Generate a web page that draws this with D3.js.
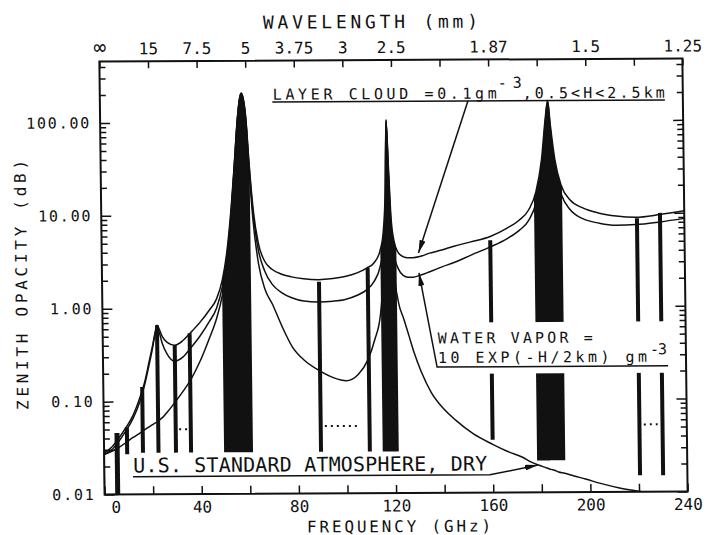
<!DOCTYPE html>
<html>
<head>
<meta charset="utf-8">
<script src="https://cdn.jsdelivr.net/npm/d3@7"></script>
<style>
  body { margin: 0; background: #fff; }
  svg text { font-family: "DejaVu Sans Mono", monospace; fill: #111; }
</style>
</head>
<body>
<svg id="chart" width="706" height="535"></svg>
<script>
// ---- data ----
const freqGHz = [0, 3, 6, 9, 12, 15, 17, 19, 20.5, 21.5,
  22.4, 23.3, 24.5, 26.5, 29.5, 33, 36, 40, 44, 47,
  49.5, 51.5, 53.5, 55, 56.5, 57.5, 58.2, 59, 60, 61,
  62.5, 64.5, 67, 70, 74, 78, 83, 89, 95, 100,
  105, 109, 112, 114.5, 116, 117, 117.7, 118.4, 119.3, 120.5,
  122, 124, 126, 128, 131, 135, 140, 145, 152, 160,
  167, 172, 176, 179, 181.5, 183.3, 184.3, 185.3, 187, 189.5,
  193, 198, 205, 212, 220, 230, 240];

// U.S. standard atmosphere, dry
const dryDb = [0.027, 0.029, 0.032, 0.036, 0.041, 0.046, 0.05, 0.054, 0.057, 0.059,
  0.061, 0.064, 0.068, 0.078, 0.098, 0.13, 0.17, 0.27, 0.48, 0.78,
  1.4, 3.0, 10, 32, 105, 175, 205, 175, 100, 33,
  8.5, 3, 1.6, 1.1, 0.62, 0.38, 0.27, 0.21, 0.175, 0.163,
  0.19, 0.27, 0.45, 0.85, 2.5, 10, 100, 25, 5, 2,
  1.1, 0.75, 0.5, 0.33, 0.2, 0.12, 0.08, 0.06, 0.043, 0.033,
  0.027, 0.024, 0.021, 0.0195, 0.0185, 0.0178, 0.0175, 0.0172, 0.0165, 0.016,
  0.015, 0.0138, 0.0122, 0.011, 0.0101, 0.0093, 0.0088];

// + water vapor
const vaporDb = [0.027, 0.03, 0.037, 0.048, 0.065, 0.1, 0.15, 0.25, 0.38, 0.52,
  0.64, 0.55, 0.42, 0.32, 0.27, 0.3, 0.37, 0.5, 0.72, 1.0,
  1.7, 3.5, 11, 34, 108, 178, 205, 178, 105, 37,
  10.5, 4.2, 2.5, 1.8, 1.45, 1.28, 1.18, 1.15, 1.17, 1.22,
  1.35, 1.55, 1.9, 2.7, 4.5, 14, 102, 30, 7, 3.5,
  2.6, 2.2, 2.1, 2.1, 2.2, 2.4, 2.7, 3.0, 3.6, 4.4,
  5.4, 6.6, 8.5, 13, 30, 100, 160, 80, 30, 16,
  11, 8.8, 7.8, 7.4, 7.5, 8.0, 8.7];

// + layer cloud
const cloudDb = [0.028, 0.032, 0.04, 0.052, 0.07, 0.11, 0.16, 0.27, 0.4, 0.54,
  0.66, 0.6, 0.5, 0.43, 0.4, 0.45, 0.54, 0.7, 0.95, 1.25,
  2.0, 4.0, 12, 35, 110, 180, 205, 180, 110, 40,
  12, 5, 3.2, 2.6, 2.3, 2.15, 2.05, 2.0, 2.05, 2.15,
  2.35, 2.65, 3.0, 4.0, 6.5, 18, 105, 35, 9, 5,
  3.9, 3.5, 3.4, 3.4, 3.5, 3.8, 4.1, 4.5, 5.0, 5.7,
  7.0, 8.5, 11, 17, 38, 110, 165, 90, 38, 20,
  14, 11.5, 10, 9.3, 9.0, 9.6, 10.5];

// absorption line markers
const lineFreq = [5.4, 9.5, 16, 22.4, 29.6, 35.8, 89.3, 109.4, 160, 220.5, 230];
const lineTop = [0.046, 0.053, 0.143, 0.66, 0.40, 0.54, 1.9, 2.65, 5.2, 8.8, 10];
const lineBottom = [0.01, 0.027, 0.028, 0.028, 0.028, 0.028, 0.028, 0.028, 0.037, 0.015, 0.015];

// filled line complexes (60, 119, 183 GHz)
const bandFrom = [49.4, 114.7, 178.2];
const bandTo = [61.3, 121.3, 189.8];
const bandBase = [0.028, 0.028, 0.022];

// dotted "more lines" marks
const dotFrom = [31, 91, 222.3];
const dotTo = [34.5, 105.4, 228];
const dotLevel = [0.05, 0.053, 0.053];

// axes
const freqTickGHz = [0, 20, 40, 60, 80, 100, 120, 140, 160, 180, 200, 220, 240];
const freqTickLabel = ["0", "", "40", "", "80", "", "120", "", "160", "", "200", "", "240"];
const waveTickLabel = ["\u221e", "15", "7.5", "5", "3.75", "3", "2.5", "", "1.87", "", "1.5", "", "1.25"];
const opacityTicks = [0.01, 0.1, 1, 10, 100];
const opacityLabels = ["0.01", "0.10", "1.00", "10.00", "100.00"];

// ---- layout ----
const plotL = 102, plotR = 685, plotT = 60, plotB = 493;
const ink = "#111";

const x = d3.scaleLinear().domain([0, 240]).range([plotL, plotR]);
const y = d3.scaleLog().domain([0.01, 458]).range([plotB, plotT]);

const svg = d3.select("#chart");
const defs = svg.append("defs");
// the scanned figure is slightly skewed
const g = svg.append("g").attr("transform", "matrix(1,-0.0053,0.0121,1,-3.35,2.09)");

defs.append("clipPath").attr("id", "plot").append("rect")
  .attr("x", plotL).attr("y", plotT).attr("width", plotR - plotL).attr("height", plotB - plotT);

defs.append("marker").attr("id", "head")
  .attr("viewBox", "0 0 13 6").attr("refX", 13).attr("refY", 3)
  .attr("markerWidth", 13).attr("markerHeight", 6)
  .attr("markerUnits", "userSpaceOnUse").attr("orient", "auto")
  .append("path").attr("d", "M0,0L13,3L0,6Z").attr("fill", ink);

// filled bands under the top curve
bandFrom.forEach((f0, k) => {
  const id = "band" + k;
  defs.append("clipPath").attr("id", id).append("rect")
    .attr("x", x(f0)).attr("y", plotT)
    .attr("width", x(bandTo[k]) - x(f0)).attr("height", plotB - plotT);
  const area = d3.area()
    .x((d, i) => x(freqGHz[i]))
    .y0(y(bandBase[k]))
    .y1(d => y(d))
    .curve(d3.curveMonotoneX);
  g.append("path").attr("clip-path", `url(#${id})`)
    .attr("d", area(cloudDb)).attr("fill", ink);
});

// the three opacity curves
const line = d3.line()
  .x((d, i) => x(freqGHz[i]))
  .y(d => y(d))
  .curve(d3.curveMonotoneX);

g.append("g").attr("clip-path", "url(#plot)")
  .selectAll("path")
  .data([dryDb, vaporDb, cloudDb])
  .join("path")
  .attr("d", d => line(d))
  .attr("fill", "none")
  .attr("stroke", ink)
  .attr("stroke-width", 1.5);

// low-frequency box
g.append("rect")
  .attr("x", x(0)).attr("y", y(0.03))
  .attr("width", x(lineFreq[0]) - x(0)).attr("height", y(0.01) - y(0.03))
  .attr("fill", "none").attr("stroke", ink).attr("stroke-width", 1.3);

// line markers
g.append("g").selectAll("line")
  .data(lineFreq)
  .join("line")
  .attr("x1", d => x(d)).attr("x2", d => x(d))
  .attr("y1", (d, i) => y(lineTop[i]))
  .attr("y2", (d, i) => y(lineBottom[i]))
  .attr("stroke", ink)
  .attr("stroke-width", (d, i) => i === 0 ? 5 : 4);

// dotted marks
g.append("g").selectAll("line")
  .data(dotFrom)
  .join("line")
  .attr("x1", d => x(d)).attr("x2", (d, i) => x(dotTo[i]))
  .attr("y1", (d, i) => y(dotLevel[i])).attr("y2", (d, i) => y(dotLevel[i]))
  .attr("stroke", ink).attr("stroke-width", 2)
  .attr("stroke-dasharray", "2,4");

// ---- axes ----
function styleAxis(sel, size) {
  sel.select(".domain").remove();
  sel.attr("font-family", null).attr("font-size", size).attr("color", ink);
  sel.selectAll("line").attr("stroke-width", 1.5);
}

g.append("g").attr("transform", `translate(0,${plotB})`)
  .call(d3.axisBottom(x).tickValues(freqTickGHz)
    .tickFormat((d, i) => freqTickLabel[i])
    .tickSizeInner(-8).tickSizeOuter(0).tickPadding(7))
  .call(s => styleAxis(s, 16))
  .call(s => s.selectAll("text").attr("dx", d => d === 0 ? 11 : 0));

g.append("g").attr("transform", `translate(0,${plotT})`)
  .call(d3.axisTop(x).tickValues(freqTickGHz)
    .tickFormat((d, i) => waveTickLabel[i])
    .tickSizeInner(-7).tickSizeOuter(0).tickPadding(7))
  .call(s => styleAxis(s, 16))
  .call(s => s.selectAll("text").filter(d => d === 0).attr("font-size", 21));

const minorTicks = y.ticks().filter(t => !opacityTicks.some(m => Math.abs(m - t) / t < 1e-6));

g.append("g").attr("transform", `translate(${plotL},0)`)
  .call(d3.axisLeft(y).tickValues(opacityTicks)
    .tickFormat((d, i) => opacityLabels[i])
    .tickSizeInner(-10).tickSizeOuter(0).tickPadding(9))
  .call(s => styleAxis(s, 15))
  .call(s => s.selectAll("text").attr("letter-spacing", 1.8));

g.append("g").attr("transform", `translate(${plotL},0)`)
  .call(d3.axisLeft(y).tickValues(minorTicks).tickFormat("")
    .tickSizeInner(-6).tickSizeOuter(0))
  .call(s => styleAxis(s, 15));

g.append("g").attr("transform", `translate(${plotR},0)`)
  .call(d3.axisRight(y).tickValues(opacityTicks).tickFormat("")
    .tickSizeInner(-10).tickSizeOuter(0))
  .call(s => styleAxis(s, 15));

g.append("g").attr("transform", `translate(${plotR},0)`)
  .call(d3.axisRight(y).tickValues(minorTicks).tickFormat("")
    .tickSizeInner(-6).tickSizeOuter(0))
  .call(s => styleAxis(s, 15));

// frame
g.append("rect")
  .attr("x", plotL).attr("y", plotT)
  .attr("width", plotR - plotL).attr("height", plotB - plotT)
  .attr("fill", "none").attr("stroke", ink).attr("stroke-width", 2);

// axis titles
g.append("text").attr("x", 266).attr("y", 28)
  .attr("font-size", 18).attr("textLength", 215).attr("lengthAdjust", "spacing")
  .text("WAVELENGTH (mm)");

g.append("text").attr("x", 304).attr("y", 532)
  .attr("font-size", 16).attr("textLength", 184).attr("lengthAdjust", "spacing")
  .text("FREQUENCY (GHz)");

g.append("text").attr("transform", "translate(27,283) rotate(-90)")
  .attr("text-anchor", "middle")
  .attr("font-size", 16).attr("textLength", 250).attr("lengthAdjust", "spacing")
  .text("ZENITH OPACITY (dB)");

// ---- annotations ----
function note(f, v, str, size, len) {
  return g.append("text").attr("x", x(f)).attr("y", y(v))
    .attr("font-size", size).attr("textLength", len).attr("lengthAdjust", "spacing")
    .text(str);
}
function path(fs, vs, arrow) {
  const p = g.append("path")
    .attr("d", d3.line()(fs.map((f, i) => [x(f), y(vs[i])])))
    .attr("fill", "none").attr("stroke", ink).attr("stroke-width", 1.5);
  if (arrow) p.attr("marker-end", "url(#head)");
  return p;
}

// layer cloud
note(71.2, 174, "LAYER CLOUD =0.1gm", 15, 224);
note(163.9, 226, "-3", 15, 24);
note(174.1, 174, ",0.5<H<2.5km", 15, 142);
path([71, 232.6], [164, 164], false);
path([151.5, 130.4], [164, 3.82], true);

// water vapor: the line marks are broken around this label
g.append("rect")
  .attr("x", x(137.4)).attr("y", y(0.68))
  .attr("width", x(232.8) - x(137.4)).attr("height", y(0.19) - y(0.68))
  .attr("fill", "#fff");
note(137.9, 0.405, "WATER VAPOR =", 15, 155);
note(137.9, 0.25, "10 EXP(-H/2km) gm", 15, 209);
note(225.2, 0.3, "-3", 15, 17);
path([232.6, 137.5, 130.5], [0.2255, 0.2255, 2.33], true);

// dry atmosphere
note(11.9, 0.01725, "U.S. STANDARD ATMOSPHERE, DRY", 20, 354);
path([11.8, 158.7, 178.5], [0.0155, 0.0155, 0.0196], true);
</script>
</body>
</html>
